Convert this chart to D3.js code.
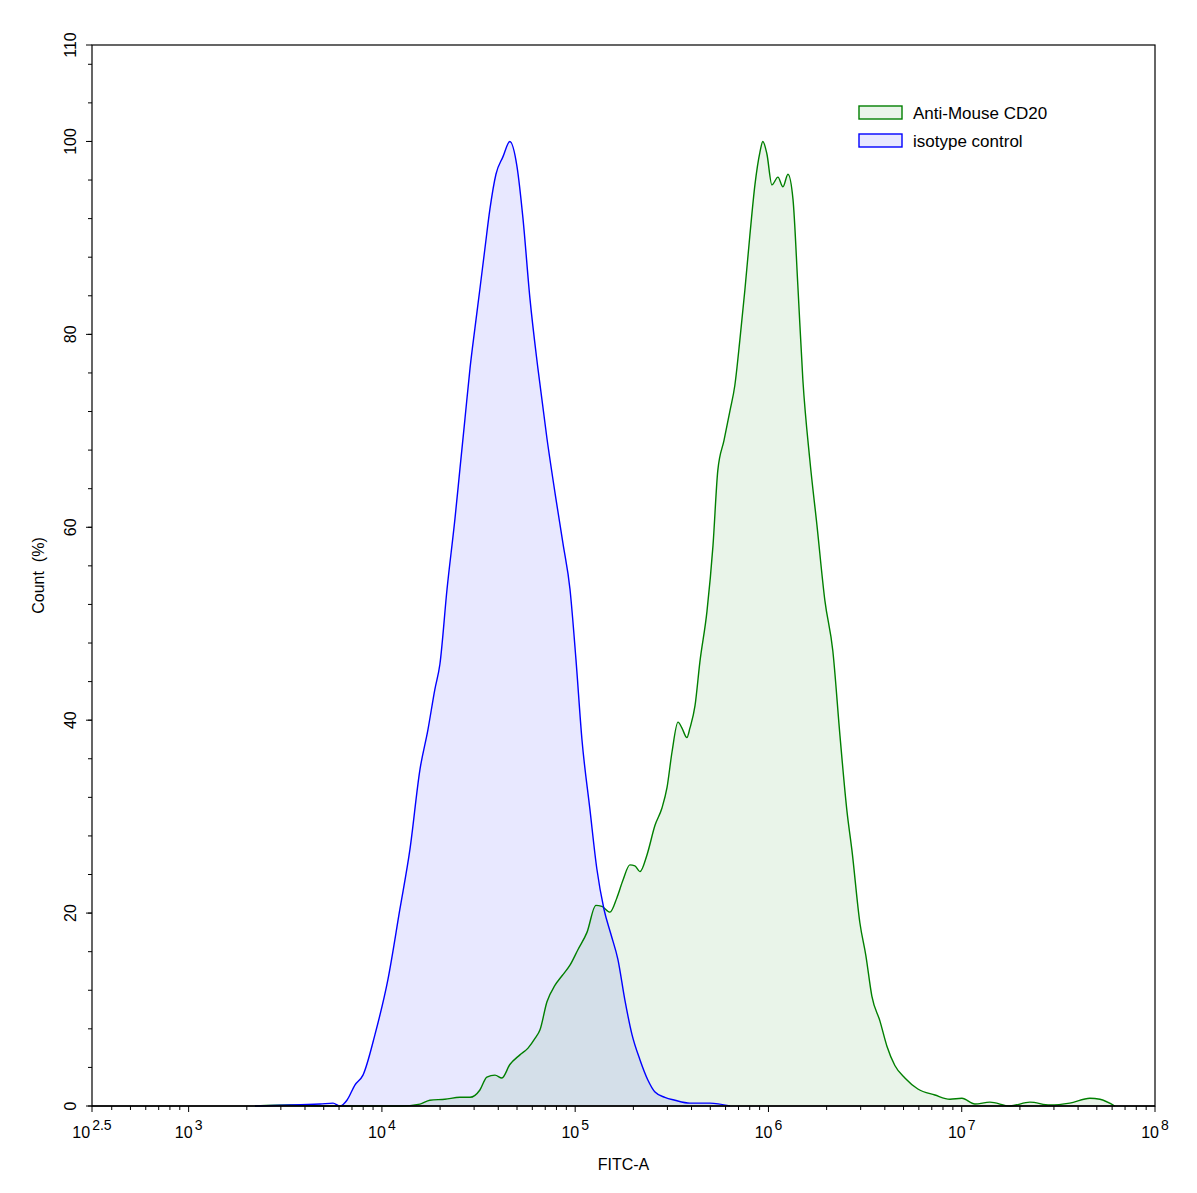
<!DOCTYPE html>
<html><head><meta charset="utf-8">
<script src="https://cdn.jsdelivr.net/npm/d3@7"></script>
<style>body{margin:0;background:#fff}text{font-family:"Liberation Sans",Arial,sans-serif;fill:#000}</style>
</head><body>
<svg id="c" width="1197" height="1193"></svg>
<script>
const blueLog=[3.343,3.680,3.747,3.783,3.819,3.861,3.902,3.964,4.031,4.093,4.145,4.197,4.238,4.274,4.300,4.337,4.378,4.404,4.430,4.456,4.481,4.507,4.533,4.559,4.590,4.626,4.662,4.699,4.730,4.766,4.807,4.854,4.900,4.937,4.973,5.004,5.035,5.076,5.112,5.149,5.185,5.221,5.257,5.294,5.335,5.376,5.413,5.464,5.516,5.594,5.697,5.801];
const blueVal=[0,0.2,0.3,0,0.6,2.2,3.2,7.4,13.1,20.4,26.6,34.9,39.0,43.2,45.8,53.6,60.9,66.1,71.3,76.5,80.6,84.7,88.9,93.0,96.6,98.4,100,97.4,92.0,83.7,76.5,69.2,63.0,58.3,53.6,46.3,38.0,30.8,24.6,20.4,17.8,15.2,11.0,7.4,4.8,2.7,1.45,0.9,0.6,0.3,0.3,0];
const greenLog=[3.343,3.524,3.731,4.093,4.197,4.248,4.326,4.404,4.456,4.507,4.543,4.585,4.621,4.662,4.714,4.756,4.792,4.818,4.854,4.895,4.932,4.973,5.014,5.061,5.107,5.138,5.180,5.216,5.247,5.283,5.309,5.335,5.371,5.413,5.449,5.475,5.501,5.532,5.552,5.578,5.594,5.620,5.645,5.682,5.713,5.738,5.770,5.801,5.826,5.852,5.878,5.904,5.930,5.956,5.971,5.992,6.018,6.049,6.075,6.101,6.127,6.152,6.178,6.214,6.251,6.292,6.333,6.370,6.406,6.432,6.473,6.504,6.535,6.577,6.613,6.654,6.706,6.773,6.861,6.939,7.001,7.068,7.146,7.249,7.353,7.456,7.559,7.663,7.715,7.792];
const greenVal=[0,0.1,0,0,0.2,0.6,0.7,0.9,0.9,1.66,3.0,3.2,2.9,4.3,5.3,6.0,7.0,7.9,10.8,12.5,13.5,14.6,16.2,18.0,20.8,20.7,20.1,21.6,23.4,25.0,24.9,24.3,26.0,29.1,30.9,33.0,36.7,39.8,39.2,38.2,39.2,41.5,46.0,51.3,58.1,65.9,69.0,72.1,74.7,79.4,84.6,90.3,95.5,98.9,100,98.7,95.5,96.3,95.3,96.6,94.0,85.1,75.3,67.0,60.2,52.4,47.2,38.4,30.6,26.5,19.0,15.6,11.4,8.8,6.2,4.2,2.9,1.76,1.14,0.7,0.8,0.2,0.4,0,0.4,0.1,0.3,0.8,0.7,0];
const xTickExp=["2.5","3","4","5","6","7","8"];
const yTicks=[0,20,40,60,80,100,110];
const seriesNames=["Anti-Mouse CD20","isotype control"];

const svg=d3.select("#c");
const L=92,R=1155,T=45,B=1106;
const x=d3.scaleLinear().domain([2.5,8]).range([L,R]);
const y=d3.scaleLinear().domain([0,110]).range([B,T]);

function draw(lg,vals,col,fill){
  const d=lg.map((v,i)=>[v,vals[i]]);
  svg.append("path").datum(d).attr("d",d3.area().x(p=>x(p[0])).y0(B).y1(p=>y(p[1])).curve(d3.curveMonotoneX)).attr("fill",fill);
  return d;
}
const bd=draw(blueLog,blueVal,"#0000ff","rgba(0,0,255,0.09)");
const gd=draw(greenLog,greenVal,"#007f00","rgba(0,128,0,0.085)");
const line=d3.line().x(p=>x(p[0])).y(p=>y(p[1])).curve(d3.curveMonotoneX);
svg.append("path").datum(gd).attr("d",line).attr("fill","none").attr("stroke","#007f00").attr("stroke-width",1.4);
svg.append("path").datum(bd).attr("d",line).attr("fill","none").attr("stroke","#0000ff").attr("stroke-width",1.4);

// frame
svg.append("rect").attr("x",L).attr("y",T).attr("width",R-L).attr("height",B-T).attr("fill","none").attr("stroke","#000").attr("stroke-width",1.2);

// x axis
const gx=svg.append("g");
gx.append("line").attr("x1",L).attr("x2",R).attr("y1",B).attr("y2",B).attr("stroke","#000").attr("stroke-width",1.5);
for(let e=2;e<8;e++){for(let m=1;m<10;m++){const v=e+Math.log10(m);if(v<2.5-1e-9||v>8)continue;
  const major=(m===1);gx.append("line").attr("x1",x(v)).attr("x2",x(v)).attr("y1",B).attr("y2",B+(major?6:4)).attr("stroke","#000").attr("stroke-width",1);}}
[2.5,8].forEach(v=>gx.append("line").attr("x1",x(v)).attr("x2",x(v)).attr("y1",B).attr("y2",B+6).attr("stroke","#000"));
xTickExp.forEach(e=>{
  const t=gx.append("text").attr("x",x(+e)).attr("y",B+32).attr("text-anchor","middle").attr("font-size",16);
  t.append("tspan").text("10");
  t.append("tspan").attr("dy",-8).attr("dx",2).attr("font-size",14).text(e);
});
svg.append("text").attr("x",(L+R)/2).attr("y",1170).attr("text-anchor","middle").attr("font-size",16).text("FITC-A");

// y axis
const gy=svg.append("g");
for(let v=0;v<=110;v+=4){gy.append("line").attr("x1",L-4).attr("x2",L).attr("y1",y(v)).attr("y2",y(v)).attr("stroke","#000");}
yTicks.forEach(v=>{
  gy.append("line").attr("x1",L-6).attr("x2",L).attr("y1",y(v)).attr("y2",y(v)).attr("stroke","#000");
  gy.append("text").attr("transform",`translate(${L-16},${y(v)}) rotate(-90)`).attr("text-anchor","middle").attr("font-size",16).text(v);
});
svg.append("text").attr("transform",`translate(44,${(T+B)/2+0}) rotate(-90)`).attr("text-anchor","middle").attr("font-size",16).attr("xml:space","preserve").text("Count  (%)");

// legend
const lg=[["#007f00","rgba(0,128,0,0.085)"],["#0000ff","rgba(0,0,255,0.09)"]];
seriesNames.forEach((n,i)=>{
  const yy=113+i*28;
  svg.append("rect").attr("x",859).attr("y",yy-7).attr("width",43).attr("height",13).attr("fill",lg[i][1]).attr("stroke",lg[i][0]).attr("stroke-width",1.4);
  svg.append("text").attr("x",913).attr("y",yy+6).attr("font-size",17).text(n);
});
</script>
</body></html>
